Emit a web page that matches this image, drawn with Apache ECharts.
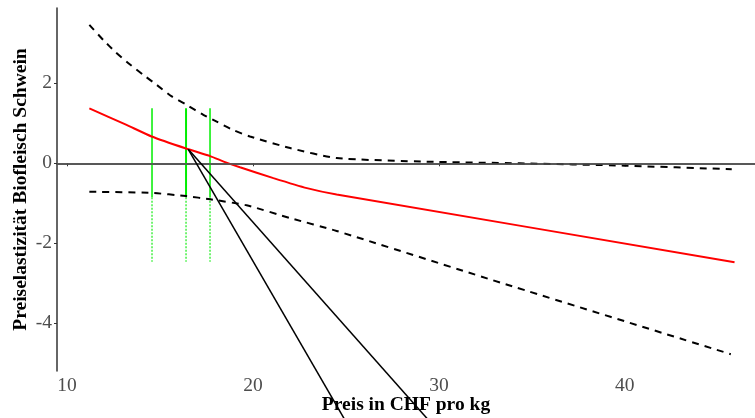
<!DOCTYPE html>
<html>
<head>
<meta charset="utf-8">
<script src="https://cdn.jsdelivr.net/npm/echarts@6/dist/echarts.min.js"></script>
<style>
  html, body { margin: 0; padding: 0; background: #fff; }
  #chart { width: 755px; height: 418px; }
</style>
</head>
<body>
<div id="chart"></div>
<script>
// Elastizitaet (rot) mit oberem / unterem Band (gestrichelt)
var elastPoints = [
  [11.2, 1.37], [13.2, 0.96], [14.55, 0.67], [16.4, 0.37], [17.7, 0.18],
  [18.5, 0.03], [19.3, -0.1], [21.1, -0.37], [22.9, -0.62], [24.5, -0.78],
  [45.9, -2.47]
]
var upperPoints = [
  [11.2, 3.46], [11.95, 3.08], [12.58, 2.79], [13.3, 2.5], [14.1, 2.21],
  [14.82, 1.96], [15.63, 1.67], [16.43, 1.46], [17.33, 1.21], [18.05, 1.04],
  [18.94, 0.83], [19.84, 0.67], [22.0, 0.38], [24.5, 0.13], [29.35, 0.04],
  [34.35, 0.0], [40.0, -0.06], [45.75, -0.15]
]
var lowerPoints = [
  [11.2, -0.71], [14.55, -0.74], [16.4, -0.82], [17.7, -0.9], [19.66, -1.05],
  [22.0, -1.37], [24.5, -1.69], [33.3, -2.98], [45.7, -4.77]
]
// gruene Markierungen (Preise): oben durchgezogen, unten gepunktet
var greenX = [14.57, 16.4, 17.69]
var greenTop = 1.375
var greenMid = -0.85
var greenBottom = -2.46
// schwarze Geraden ab dem Schnittpunkt
var rayStart = [16.52, 0.35]
var rayEnds = [[26, -7.26], [30, -6.71]]

var xTicks = [10, 20, 30, 40]
var yTicks = [-4, -2, 0, 2]

var chart = echarts.init(document.getElementById('chart'))

var serifFont = '"Liberation Serif", "Times New Roman", serif'

var series = []

greenX.forEach(function (x, i) {
  series.push({
    type: 'line',
    data: [[x, greenTop], [x, greenMid]],
    showSymbol: false,
    silent: true,
    lineStyle: { color: '#00ee00', width: i === 1 ? 2 : 1.5 },
    z: 2
  })
  series.push({
    type: 'line',
    data: [[x, greenMid], [x, greenBottom]],
    showSymbol: false,
    silent: true,
    lineStyle: { color: '#44f044', width: 1.5, type: [2, 1.5] },
    z: 2
  })
})

series.push({
  type: 'line',
  data: elastPoints,
  showSymbol: false,
  smooth: 0.15,
  lineStyle: { color: '#ff0000', width: 2 },
  z: 3,
  markLine: {
    silent: true,
    symbol: 'none',
    label: { show: false },
    lineStyle: { color: '#555', width: 1.5, type: 'solid' },
    data: [{ yAxis: 0 }]
  }
})

series.push({
  type: 'line',
  data: upperPoints,
  showSymbol: false,
  smooth: 0.2,
  lineStyle: { color: '#000', width: 2, type: [7, 6] },
  z: 3
})

series.push({
  type: 'line',
  data: lowerPoints,
  showSymbol: false,
  smooth: 0.2,
  lineStyle: { color: '#000', width: 2, type: [7, 6] },
  z: 3
})

rayEnds.forEach(function (p) {
  series.push({
    type: 'line',
    data: [rayStart, p],
    showSymbol: false,
    clip: false,
    lineStyle: { color: '#000', width: 1.5 },
    z: 5
  })
})

chart.setOption({
  animation: false,
  grid: { left: 57, right: 0, top: 8, bottom: 47, containLabel: false, outerBoundsMode: 'none' },
  xAxis: {
    type: 'value',
    min: 9.46,
    max: 47,
    name: 'Preis in CHF pro kg',
    nameLocation: 'middle',
    nameGap: 24,
    nameMoveOverlap: false,
    nameTextStyle: { fontFamily: serifFont, fontWeight: 'bold', fontSize: 19.5, color: '#000' },
    axisLine: { show: true, lineStyle: { color: '#333', width: 1.5 } },
    axisTick: { show: true, length: 3, customValues: xTicks, lineStyle: { color: '#333' } },
    axisLabel: { customValues: xTicks, fontFamily: serifFont, fontSize: 19.5, color: '#4d4d4d', margin: 5 },
    splitLine: { show: false }
  },
  yAxis: {
    type: 'value',
    min: -5.19,
    max: 3.88,
    name: 'Preiselastizität Biofleisch Schwein',
    nameLocation: 'middle',
    nameGap: 26,
    nameMoveOverlap: false,
    nameTextStyle: { fontFamily: serifFont, fontWeight: 'bold', fontSize: 19.5, color: '#000' },
    axisLine: { show: true, lineStyle: { color: '#333', width: 1.5 } },
    axisTick: { show: true, length: 3, customValues: yTicks, lineStyle: { color: '#333' } },
    axisLabel: { customValues: yTicks, fontFamily: serifFont, fontSize: 19.5, color: '#4d4d4d', margin: 5 },
    splitLine: { show: false }
  },
  series: series
})
</script>
</body>
</html>
